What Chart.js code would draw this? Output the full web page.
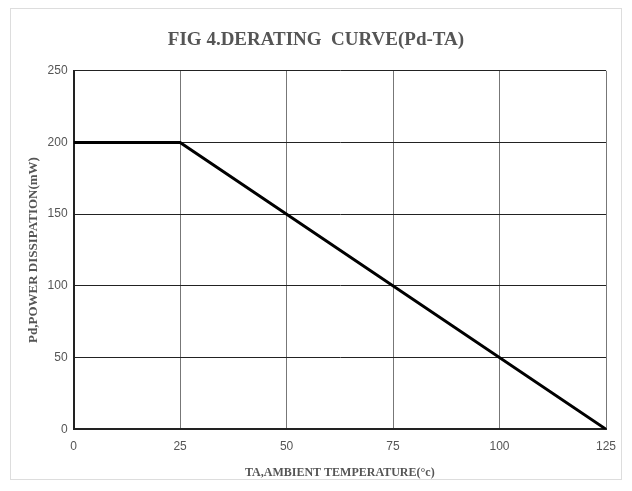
<!DOCTYPE html>
<html>
<head>
<meta charset="utf-8">
<script src="https://cdn.jsdelivr.net/npm/chart.js@4"></script>
<style>
  body { margin: 0; background: #fff; }
</style>
</head>
<body>
<canvas id="chart" width="632" height="491"></canvas>
<script>
const temps = [0, 25, 125];
const power = [200, 200, 0];
const xTicks = [0, 25, 50, 75, 100, 125];
const yTicks = [0, 50, 100, 150, 200, 250];

const ctx = document.getElementById('chart').getContext('2d');

const points = temps.map((t, i) => ({ x: t, y: power[i] }));

const serif = 'Liberation Serif';
const sans = 'Liberation Sans';

// light grey frame round the whole figure
const framePlugin = {
    id: 'frame',
    beforeDraw(chart) {
        const c = chart.ctx;
        c.save();
        c.strokeStyle = '#ddd';
        c.lineWidth = 1;
        c.strokeRect(10.5, 8.5, 611, 471);
        c.restore();
    }
};

new Chart(ctx, {
    type: 'scatter',
    data: {
        datasets: [{
            data: points,
            showLine: true,
            borderColor: '#000',
            borderWidth: 3,
            pointRadius: 0,
            fill: false
        }]
    },
    options: {
        responsive: false,
        animation: false,
        layout: {
            padding: { left: 26, right: 26, top: 19, bottom: 11 }
        },
        plugins: {
            legend: { display: false },
            tooltip: { enabled: false },
            title: {
                display: true,
                text: 'FIG 4.DERATING  CURVE(Pd-TA)',
                color: '#555',
                font: { family: serif, size: 19, weight: 'bold' },
                padding: { top: 10, bottom: 19 }
            }
        },
        scales: {
            x: {
                type: 'linear',
                min: 0,
                max: 125,
                afterBuildTicks: axis => { axis.ticks = xTicks.map(v => ({ value: v })); },
                grid: { color: '#777', lineWidth: 1, drawTicks: false },
                border: { color: '#222', width: 2 },
                ticks: { color: '#555', font: { family: sans, size: 12 }, padding: 10 },
                title: {
                    display: true,
                    text: 'TA,AMBIENT TEMPERATURE(\u00b0c)',
                    color: '#555',
                    font: { family: serif, size: 12, weight: 'bold' },
                    padding: { top: 2, bottom: 0 }
                }
            },
            y: {
                min: 0,
                max: 250,
                afterBuildTicks: axis => { axis.ticks = yTicks.map(v => ({ value: v })); },
                grid: { color: '#222', lineWidth: 1, drawTicks: false },
                border: { color: '#222', width: 2 },
                ticks: { color: '#555', font: { family: sans, size: 12 }, padding: 6 },
                title: {
                    display: true,
                    text: 'Pd,POWER DISSIPATION(mW)',
                    color: '#555',
                    font: { family: serif, size: 13, weight: 'bold' },
                    padding: { top: 0, bottom: 0 }
                }
            }
        }
    },
    plugins: [framePlugin]
});
</script>
</body>
</html>
